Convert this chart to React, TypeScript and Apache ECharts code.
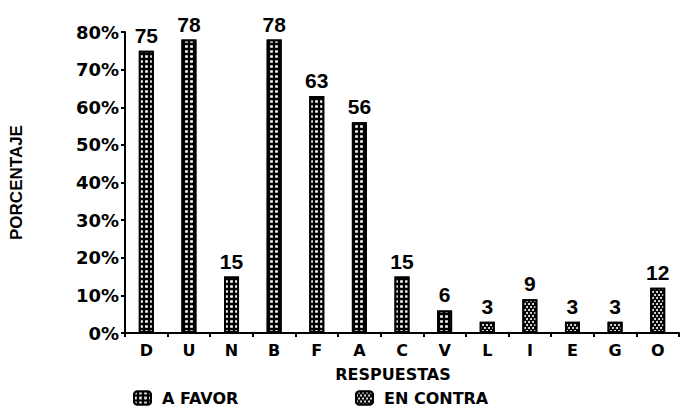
import React, { useEffect, useRef } from "react";
import * as echarts from "echarts";

const categories = ["D", "U", "N", "B", "F", "A", "C", "V", "L", "I", "E", "G", "O"];
const aFavor = [75, 78, 15, 78, 63, 56, 15, 6, null, null, null, null, null];
const enContra = [null, null, null, null, null, null, null, null, 3, 9, 3, 3, 12];
const yTicks = ["0%", "10%", "20%", "30%", "40%", "50%", "60%", "70%", "80%"];

const HEAVY = "'DejaVu Sans', 'Liberation Sans', sans-serif";
const LABEL = "'Liberation Sans', Arial, sans-serif";

export default function App() {
  const ref = useRef<HTMLDivElement>(null);
  useEffect(() => {
    if (!ref.current) return;
    const chart = echarts.init(ref.current, null, { renderer: "svg" });
    const labelStyle = {
      show: true,
      position: "top" as const,
      distance: 5,
      color: "#000",
      fontFamily: LABEL,
      fontSize: 21,
      fontWeight: "bold" as const,
    };
    chart.setOption({
      animation: false,
      backgroundColor: "#fff",
      grid: { left: 120, right: 3, top: 32, bottom: 74 },
      legend: [
        {
          data: ["A FAVOR"],
          left: 128,
          top: 385,
          itemWidth: 17,
          itemHeight: 13,
          itemGap: 10,
          textStyle: { fontFamily: HEAVY, fontWeight: "bold", fontSize: 16, color: "#000", padding: [0, 0, 0, 6] },
        },
        {
          data: ["EN CONTRA"],
          left: 350,
          top: 385,
          itemWidth: 17,
          itemHeight: 13,
          textStyle: { fontFamily: HEAVY, fontWeight: "bold", fontSize: 16, color: "#000", padding: [0, 0, 0, 6] },
        },
      ],
      xAxis: {
        type: "category",
        data: categories,
        name: "RESPUESTAS",
        nameLocation: "middle",
        nameGap: 33,
        nameTextStyle: { fontFamily: HEAVY, fontWeight: "bold", fontSize: 16, color: "#000", padding: [0, 18, 0, 0] },
        axisLine: { lineStyle: { color: "#000", width: 2 } },
        axisTick: { show: true, length: 4, lineStyle: { color: "#000", width: 2 } },
        axisLabel: { color: "#000", fontFamily: HEAVY, fontWeight: "bold", fontSize: 16, margin: 9 },
      },
      yAxis: {
        type: "value",
        min: 0,
        max: 80,
        interval: 10,
        name: "PORCENTAJE",
        nameLocation: "middle",
        nameRotate: 90,
        nameGap: 100,
        nameTextStyle: { fontFamily: LABEL, fontWeight: "bold", fontSize: 17, color: "#000" },
        axisLine: { show: true, lineStyle: { color: "#000", width: 2 } },
        axisTick: { show: true, length: 4, lineStyle: { color: "#000", width: 2 } },
        splitLine: { show: false },
        axisLabel: {
          color: "#000",
          fontFamily: HEAVY,
          fontWeight: "bold",
          fontSize: 18,
          margin: 6,
          formatter: (v: number) => yTicks[Math.round(v / 10)],
        },
      },
      series: [
        {
          name: "A FAVOR",
          type: "bar",
          stack: "all",
          data: aFavor,
          barWidth: 15,
          label: labelStyle,
          itemStyle: {
            color: "#000",
            borderColor: "#000",
            borderWidth: 2,
            decal: {
              symbol: "rect",
              color: "#fff",
              backgroundColor: "#000",
              dashArrayX: [3, 2],
              dashArrayY: [3, 2],
              symbolSize: 0.9,
            },
          },
        },
        {
          name: "EN CONTRA",
          type: "bar",
          stack: "all",
          data: enContra,
          barWidth: 15,
          label: labelStyle,
          itemStyle: {
            color: "#000",
            borderColor: "#000",
            borderWidth: 2,
            decal: {
              symbol: "circle",
              color: "#fff",
              backgroundColor: "#000",
              dashArrayX: [[2, 2], [0, 2, 2, 0]],
              dashArrayY: [2, 1],
              symbolSize: 1,
            },
          },
        },
      ],
    });
    return () => chart.dispose();
  }, []);
  return <div ref={ref} style={{ width: 682, height: 407, position: "absolute", left: 0, top: 0 }} />;
}
